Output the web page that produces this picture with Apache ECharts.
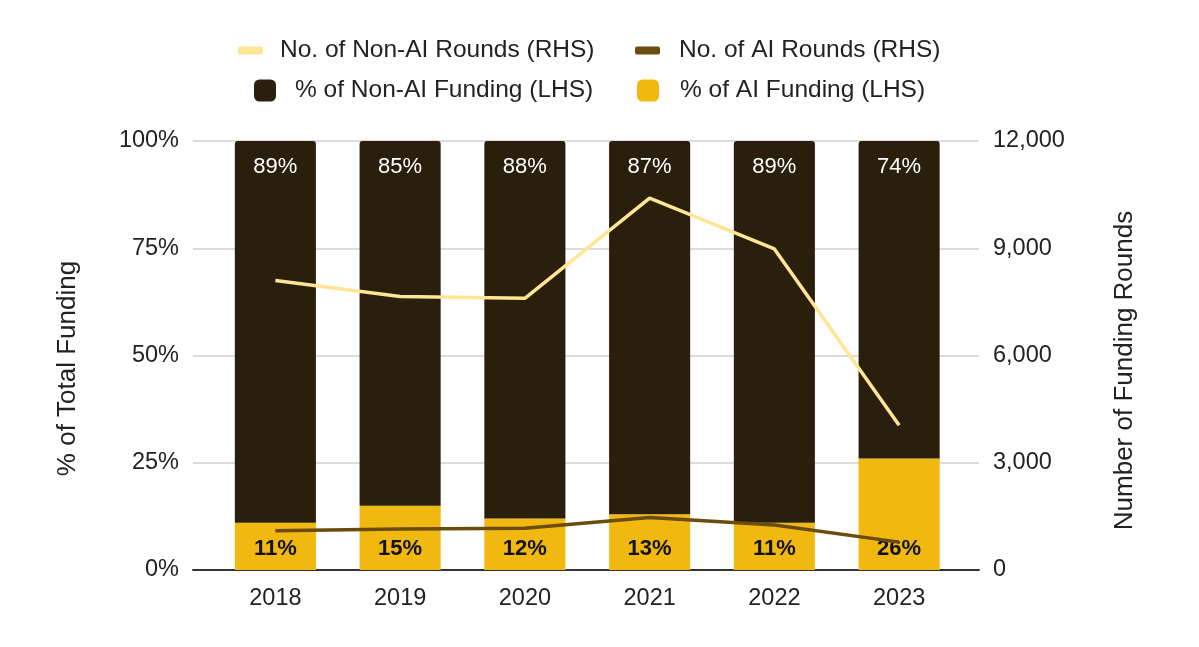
<!DOCTYPE html>
<html>
<head>
<meta charset="utf-8">
<script src="https://cdn.jsdelivr.net/npm/echarts@6/dist/echarts.min.js"></script>
<style>
html,body{margin:0;padding:0;background:#fff;}
#c{width:1199px;height:647px;}
</style>
</head>
<body>
<div id="c"></div>
<script>
const years = ['2018','2019','2020','2021','2022','2023'];
const pctAiFunding = [11, 15, 12, 13, 11, 26];
const pctNonAiFunding = [89, 85, 88, 87, 89, 74];
const nonAiRounds = [8100, 7650, 7600, 10400, 8980, 4050];
const aiRounds = [1100, 1150, 1170, 1470, 1260, 780];
const leftTicks = [0, 25, 50, 75, 100];
const rightTicks = [0, 3000, 6000, 9000, 12000];

const FONT = '"Liberation Sans", Arial, sans-serif';
const C_NONAI_BAR = '#291f0c';
const C_AI_BAR = '#f1b90f';
const C_NONAI_LINE = '#ffe594';
const C_AI_LINE = '#6a4c0f';

const chart = echarts.init(document.getElementById('c'), null, {renderer: 'canvas'});

const legendText = {fontFamily: FONT, fontSize: 24.5, color: '#222'};
function legend(name, left, top, w, h, gap) {
  return {
    data: [name], left: left, top: top, itemWidth: w, itemHeight: h, padding: 0,
    icon: 'roundRect', selectedMode: false,
    textStyle: Object.assign({padding: [0, 0, 0, gap]}, legendText)
  };
}

const option = {
  backgroundColor: '#fff',
  animation: false,
  textStyle: {fontFamily: FONT},
  legend: [
    legend('No. of Non-AI Rounds (RHS)', 238, 38, 25, 8, 12),
    legend('No. of AI Rounds (RHS)', 635, 38, 25, 8, 14),
    legend('% of Non-AI Funding (LHS)', 254, 78, 22, 22, 14),
    legend('% of AI Funding (LHS)', 637, 78, 22, 22, 16)
  ],
  grid: [
    {left: 193, right: 220, top: 141, bottom: 77},
    {left: 213, right: 237.5, top: 141, bottom: 77}
  ],
  xAxis: [
    {gridIndex: 0, type: 'value', min: 0, max: 1, show: true,
     axisLine: {show: true, lineStyle: {color: '#333', width: 2}},
     axisTick: {show: false}, axisLabel: {show: false}, splitLine: {show: false}},
    {gridIndex: 1, type: 'category', data: years,
     axisLine: {show: false}, axisTick: {show: false},
     axisLabel: {margin: 17, fontSize: 23.5, color: '#222', fontFamily: FONT}}
  ],
  yAxis: [
    {gridIndex: 0, type: 'value', min: 0, max: 100, interval: 25, position: 'left',
     axisLine: {show: false}, axisTick: {show: false},
     axisLabel: {margin: 14, fontSize: 23.5, color: '#222', fontFamily: FONT,
       formatter: v => leftTicks.includes(v) ? v + '%' : ''},
     splitLine: {show: true, lineStyle: {color: '#d0d0d0', width: 1.5}},
     name: '% of Total Funding', nameLocation: 'middle', nameRotate: 90, nameGap: 112,
     nameTextStyle: {fontSize: 26, color: '#222', fontFamily: FONT, padding: [0, 26, 0, 0]}},
    {gridIndex: 0, type: 'value', min: 0, max: 12000, interval: 3000, position: 'right',
     axisLine: {show: false}, axisTick: {show: false},
     axisLabel: {margin: 14, fontSize: 23.5, color: '#222', fontFamily: FONT,
       formatter: v => rightTicks.includes(v) ? v.toLocaleString('en-US') : ''},
     splitLine: {show: false},
     name: 'Number of Funding Rounds', nameLocation: 'middle', nameRotate: 90, nameGap: 133,
     nameTextStyle: {fontSize: 26, color: '#222', fontFamily: FONT, padding: [0, 30, 0, 0]}},
    {gridIndex: 1, type: 'value', min: 0, max: 100, show: false, splitLine: {show: false}},
    {gridIndex: 1, type: 'value', min: 0, max: 12000, show: false, splitLine: {show: false}}
  ],
  series: [
    {name: '% of AI Funding (LHS)', type: 'bar', stack: 'f', xAxisIndex: 1, yAxisIndex: 2,
     data: pctAiFunding, barWidth: '65%', itemStyle: {color: C_AI_BAR},
     label: {show: true, position: 'insideBottom', distance: 10, formatter: '{c}%',
       fontSize: 22, fontWeight: 'bold', color: '#111', fontFamily: FONT}, z: 2},
    {name: '% of Non-AI Funding (LHS)', type: 'bar', stack: 'f', xAxisIndex: 1, yAxisIndex: 2,
     data: pctNonAiFunding, barWidth: '65%', itemStyle: {color: C_NONAI_BAR, borderRadius: [3, 3, 0, 0]},
     label: {show: true, position: 'insideTop', distance: 15, formatter: '{c}%',
       fontSize: 22, color: '#fff', fontFamily: FONT}, z: 2},
    {name: 'No. of Non-AI Rounds (RHS)', type: 'line', xAxisIndex: 1, yAxisIndex: 3,
     data: nonAiRounds, symbol: 'none', lineStyle: {color: C_NONAI_LINE, width: 3.5},
     itemStyle: {color: C_NONAI_LINE}, z: 3},
    {name: 'No. of AI Rounds (RHS)', type: 'line', xAxisIndex: 1, yAxisIndex: 3,
     data: aiRounds, symbol: 'none', lineStyle: {color: C_AI_LINE, width: 3.5},
     itemStyle: {color: C_AI_LINE}, z: 3}
  ]
};
chart.setOption(option);
</script>
</body>
</html>
